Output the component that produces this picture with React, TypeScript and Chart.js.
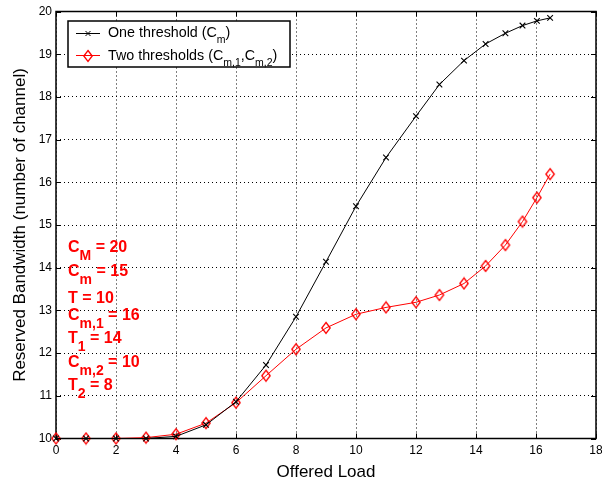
import { useEffect, useRef } from "react";
import { Chart, registerables } from "chart.js";

Chart.register(...registerables);

// Offered load at which each point was evaluated
const offeredLoad = [0, 1, 2, 3, 4, 5, 6, 7, 8, 9, 10, 11, 12, 12.78, 13.6, 14.32, 14.98, 15.55, 16.03, 16.47];

// Reserved bandwidth with a single threshold C_m
const oneThreshold = [10, 10, 10, 10, 10.05, 10.32, 10.86, 11.72, 12.85, 14.14, 15.44, 16.58, 17.55, 18.29, 18.85, 19.24, 19.49, 19.67, 19.78, 19.85];

// Reserved bandwidth with two thresholds C_m,1 / C_m,2
const twoThresholds = [10, 10, 10, 10.02, 10.1, 10.36, 10.84, 11.47, 12.09, 12.59, 12.91, 13.07, 13.19, 13.36, 13.63, 14.04, 14.53, 15.08, 15.64, 16.19];

const xRange = { min: 0, max: 18, step: 2 };
const yRange = { min: 10, max: 20, step: 1 };

type Seg = { text: string; sub?: boolean };

const legendEntries: Seg[][] = [
  [{ text: "One threshold (C" }, { text: "m", sub: true }, { text: ")" }],
  [{ text: "Two thresholds (C" }, { text: "m,1", sub: true }, { text: ",C" }, { text: "m,2", sub: true }, { text: ")" }],
];

const paramLabels: Seg[][] = [
  [{ text: "C" }, { text: "M", sub: true }, { text: " = 20" }],
  [{ text: "C" }, { text: "m", sub: true }, { text: " = 15" }],
  [{ text: "T = 10" }],
  [{ text: "C" }, { text: "m,1", sub: true }, { text: " = 16" }],
  [{ text: "T" }, { text: "1", sub: true }, { text: " = 14" }],
  [{ text: "C" }, { text: "m,2", sub: true }, { text: " = 10" }],
  [{ text: "T" }, { text: "2", sub: true }, { text: " = 8" }],
];

const FONT = '"Liberation Sans", Arial, Helvetica, sans-serif';
const RED = "#ff0000";
const paramBaselines = [252, 275.5, 302.5, 320, 343, 366.5, 390];

function makeDiamond(): HTMLCanvasElement {
  const c = document.createElement("canvas");
  c.width = 12;
  c.height = 14;
  const g = c.getContext("2d")!;
  g.strokeStyle = RED;
  g.lineWidth = 1.3;
  g.beginPath();
  g.moveTo(6, 1.5);
  g.lineTo(10.2, 7);
  g.lineTo(6, 12.5);
  g.lineTo(1.8, 7);
  g.closePath();
  g.stroke();
  return c;
}

function drawRich(ctx: CanvasRenderingContext2D, segs: Seg[], x: number, y: number, mainFont: string, subFont: string, drop: number) {
  let cx = x;
  for (const s of segs) {
    ctx.font = s.sub ? subFont : mainFont;
    ctx.fillText(s.text, cx, s.sub ? y + drop : y);
    cx += ctx.measureText(s.text).width;
  }
}

function drawCross(ctx: CanvasRenderingContext2D, x: number, y: number, r: number) {
  ctx.beginPath();
  ctx.moveTo(x - r, y - r);
  ctx.lineTo(x + r, y + r);
  ctx.moveTo(x - r, y + r);
  ctx.lineTo(x + r, y - r);
  ctx.stroke();
}

export default function App() {
  const ref = useRef<HTMLCanvasElement | null>(null);

  useEffect(() => {
    document.body.style.margin = "0";
    const canvas = ref.current;
    if (!canvas) return;
    const diamond = makeDiamond();
    const TICK = 5;

    const overlay = {
      id: "overlay",
      beforeDatasetsDraw(chart: Chart) {
        const { ctx, chartArea: a } = chart;
        const xs = chart.scales.x;
        const ys = chart.scales.y;
        ctx.save();
        ctx.strokeStyle = "#000";
        ctx.lineWidth = 1;
        ctx.beginPath();
        for (const t of xs.ticks) {
          const px = Math.round(xs.getPixelForValue(t.value)) + 0.5;
          ctx.moveTo(px, a.bottom);
          ctx.lineTo(px, a.bottom - TICK);
          ctx.moveTo(px, a.top);
          ctx.lineTo(px, a.top + TICK);
        }
        for (const t of ys.ticks) {
          const py = Math.round(ys.getPixelForValue(t.value)) + 0.5;
          ctx.moveTo(a.left, py);
          ctx.lineTo(a.left + TICK, py);
          ctx.moveTo(a.right, py);
          ctx.lineTo(a.right - TICK, py);
        }
        ctx.stroke();
        ctx.lineWidth = 1.5;
        ctx.strokeRect(a.left, a.top, a.right - a.left, a.bottom - a.top);
        ctx.restore();
      },
      afterDraw(chart: Chart) {
        const { ctx } = chart;
        ctx.save();
        // legend box
        const bx = 68, by = 21, bw = 222, bh = 46;
        ctx.fillStyle = "#fff";
        ctx.fillRect(bx, by, bw, bh);
        ctx.strokeStyle = "#000";
        ctx.lineWidth = 1.5;
        ctx.strokeRect(bx, by, bw, bh);

        const rows = [33.5, 55.5];
        const colors = ["#000", RED];
        rows.forEach((ry, i) => {
          ctx.strokeStyle = colors[i];
          ctx.lineWidth = 1;
          ctx.beginPath();
          ctx.moveTo(76, ry);
          ctx.lineTo(100, ry);
          ctx.stroke();
          if (i === 0) drawCross(ctx, 88, ry, 2.5);
          else ctx.drawImage(diamond, 82, Math.round(ry - diamond.height / 2));
          ctx.fillStyle = "#000";
          ctx.textBaseline = "alphabetic";
          ctx.textAlign = "left";
          drawRich(ctx, legendEntries[i], 108, ry + 3 + (i === 0 ? 0 : 1), `14.3px ${FONT}`, `10.5px ${FONT}`, 6);
        });

        // parameter annotations
        ctx.fillStyle = RED;
        paramLabels.forEach((segs, i) => {
          drawRich(ctx, segs, 68, paramBaselines[i], `bold 16px ${FONT}`, `bold 14px ${FONT}`, 8);
        });
        ctx.restore();
      },
    };

    const toPoints = (ys: number[]) => offeredLoad.map((x, i) => ({ x, y: ys[i] }));

    const chart = new Chart(canvas, {
      type: "line",
      data: {
        datasets: [
          {
            label: "One threshold",
            data: toPoints(oneThreshold),
            borderColor: "#000",
            backgroundColor: "#000",
            borderWidth: 1,
            pointStyle: "crossRot",
            pointRadius: 4,
            pointBorderWidth: 1.1,
            pointBorderColor: "#000",
            tension: 0,
            clip: false as any,
          },
          {
            label: "Two thresholds",
            data: toPoints(twoThresholds),
            borderColor: RED,
            backgroundColor: RED,
            borderWidth: 1,
            pointStyle: diamond,
            pointRadius: 5,
            tension: 0,
            clip: false as any,
          },
        ],
      },
      options: {
        animation: false,
        responsive: false,
        devicePixelRatio: 1,
        layout: { padding: { left: 0, right: 6, top: 11.5, bottom: 0 } },
        plugins: { legend: { display: false }, tooltip: { enabled: false } },
        scales: {
          x: {
            type: "linear",
            min: xRange.min,
            max: xRange.max,
            ticks: { stepSize: xRange.step, color: "#000", font: { family: FONT, size: 12 }, padding: 5, maxRotation: 0 },
            grid: { color: "#000", lineWidth: 1, drawTicks: false },
            border: { display: false, dash: [1, 3] },
            title: { display: true, text: "Offered Load", color: "#000", font: { family: FONT, size: 17 }, padding: { top: 0, bottom: 0 } },
            afterFit(s: any) {
              s.height = 44.5;
              s.paddingLeft = 0;
              s.paddingRight = 0;
            },
          },
          y: {
            type: "linear",
            min: yRange.min,
            max: yRange.max,
            ticks: { stepSize: yRange.step, color: "#000", font: { family: FONT, size: 12 }, padding: 4 },
            grid: { color: "#000", lineWidth: 1, drawTicks: false },
            border: { display: false, dash: [1, 3] },
            title: {
              display: true,
              text: "Reserved Bandwidth (number of channel)",
              color: "#000",
              font: { family: FONT, size: 17 },
              padding: { top: 10.5, bottom: 0 },
            },
            afterFit(s: any) {
              s.width = 56;
              s.paddingTop = 0;
              s.paddingBottom = 0;
            },
          },
        },
      },
      plugins: [overlay],
    });
    return () => chart.destroy();
  }, []);

  return (
    <div style={{ position: "absolute", left: 0, top: 0, width: 602, height: 483, background: "#fff" }}>
      <canvas ref={ref} width={602} height={483} />
    </div>
  );
}
